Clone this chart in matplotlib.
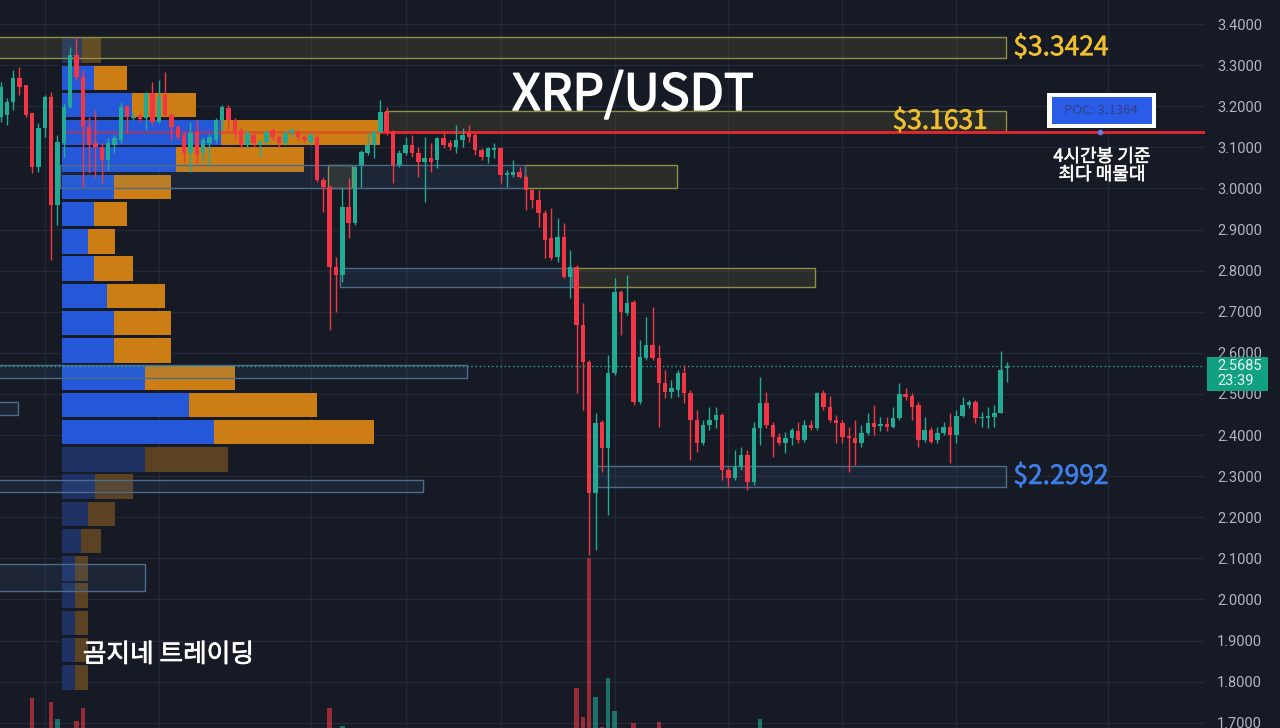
import numpy as np
import matplotlib
matplotlib.use("Agg")
import matplotlib.pyplot as plt
import matplotlib.transforms as mtransforms
import matplotlib.patheffects as pe
from matplotlib.patches import Rectangle

plt.rcParams['font.family'] = ['Noto Sans CJK KR', 'DejaVu Sans']

# ---------------- 4h candles (XRP/USDT) ----------------
opens = [
    3.174, 3.179, 3.210, 3.269, 3.252, 3.183, 3.052, 3.147, 3.222, 2.960,
    3.111, 3.198, 3.325, 3.271, 3.149, 3.111, 3.101, 3.069, 3.106, 3.118,
    3.200, 3.171, 3.179, 3.171, 3.232, 3.162, 3.227, 3.179, 3.149, 3.130,
    3.086, 3.137, 3.086, 3.111, 3.118, 3.166, 3.196, 3.166, 3.142, 3.106,
    3.130, 3.106, 3.113, 3.142, 3.125, 3.111, 3.135, 3.137, 3.125, 3.113,
    3.125, 3.020, 3.003, 2.809, 2.789, 2.955, 2.916, 3.057, 3.086, 3.106,
    3.137, 3.186, 3.137, 3.057, 3.086, 3.106, 3.086, 3.064, 3.074, 3.069,
    3.123, 3.111, 3.101, 3.118, 3.135, 3.130, 3.093, 3.076, 3.093, 3.098,
    3.033, 3.033, 3.040, 3.028, 2.996, 2.972, 2.940, 2.879, 2.833, 2.882,
    2.785, 2.809, 2.668, 2.578, 2.259, 2.432, 2.368, 2.551, 2.748, 2.697,
    2.724, 2.480, 2.587, 2.619, 2.587, 2.527, 2.505, 2.510, 2.551, 2.502,
    2.437, 2.381, 2.424, 2.437, 2.449, 2.315, 2.296, 2.322, 2.351, 2.286,
    2.417, 2.478, 2.424, 2.395, 2.381, 2.393, 2.410, 2.388, 2.424, 2.417,
    2.502, 2.468, 2.437, 2.429, 2.398, 2.393, 2.381, 2.405, 2.429, 2.422,
    2.427, 2.420, 2.441, 2.500, 2.495, 2.473, 2.388, 2.412, 2.388, 2.405,
    2.420, 2.400, 2.446, 2.473, 2.480, 2.441, 2.441, 2.444, 2.453, 2.563,
]
highs = [
    3.259, 3.220, 3.288, 3.295, 3.252, 3.183, 3.159, 3.227, 3.235, 3.130,
    3.208, 3.344, 3.368, 3.288, 3.174, 3.191, 3.111, 3.123, 3.130, 3.210,
    3.203, 3.186, 3.183, 3.235, 3.259, 3.264, 3.283, 3.183, 3.154, 3.137,
    3.162, 3.166, 3.125, 3.132, 3.171, 3.203, 3.203, 3.171, 3.147, 3.142,
    3.137, 3.118, 3.142, 3.147, 3.130, 3.142, 3.147, 3.142, 3.130, 3.135,
    3.130, 3.028, 3.008, 2.833, 3.001, 3.025, 3.057, 3.093, 3.137, 3.142,
    3.215, 3.198, 3.142, 3.093, 3.125, 3.130, 3.101, 3.125, 3.111, 3.125,
    3.135, 3.118, 3.154, 3.147, 3.154, 3.135, 3.098, 3.101, 3.111, 3.101,
    3.045, 3.069, 3.052, 3.033, 3.001, 2.996, 2.947, 2.952, 2.928, 2.916,
    2.850, 2.814, 2.721, 2.583, 2.453, 2.437, 2.595, 2.782, 2.753, 2.789,
    2.729, 2.631, 2.687, 2.711, 2.619, 2.558, 2.534, 2.558, 2.570, 2.510,
    2.461, 2.437, 2.468, 2.468, 2.453, 2.322, 2.364, 2.371, 2.364, 2.432,
    2.541, 2.505, 2.432, 2.405, 2.407, 2.417, 2.432, 2.437, 2.437, 2.505,
    2.510, 2.495, 2.449, 2.437, 2.420, 2.437, 2.424, 2.453, 2.473, 2.444,
    2.444, 2.468, 2.527, 2.514, 2.502, 2.480, 2.444, 2.420, 2.420, 2.432,
    2.453, 2.461, 2.492, 2.485, 2.485, 2.456, 2.468, 2.473, 2.605, 2.578,
]
lows = [
    3.162, 3.154, 3.191, 3.227, 3.174, 3.037, 3.040, 3.125, 2.826, 2.911,
    3.076, 3.196, 3.264, 3.003, 3.037, 3.028, 3.013, 3.045, 3.086, 3.111,
    3.135, 3.166, 3.162, 3.142, 3.154, 3.159, 3.174, 3.118, 3.118, 3.064,
    3.040, 3.062, 3.064, 3.057, 3.111, 3.142, 3.142, 3.118, 3.098, 3.098,
    3.101, 3.076, 3.106, 3.118, 3.101, 3.106, 3.125, 3.118, 3.113, 3.106,
    3.015, 2.943, 2.656, 2.699, 2.772, 2.879, 2.911, 3.003, 3.081, 3.074,
    3.135, 3.130, 3.013, 3.052, 3.081, 3.076, 3.028, 2.967, 3.040, 3.050,
    3.098, 3.093, 3.086, 3.101, 3.113, 3.081, 3.069, 3.062, 3.074, 3.013,
    3.003, 3.028, 3.025, 2.947, 2.952, 2.906, 2.831, 2.826, 2.821, 2.782,
    2.733, 2.502, 2.461, 2.108, 2.120, 2.310, 2.205, 2.546, 2.643, 2.692,
    2.473, 2.475, 2.582, 2.582, 2.420, 2.490, 2.490, 2.492, 2.478, 2.339,
    2.359, 2.376, 2.412, 2.417, 2.291, 2.274, 2.291, 2.315, 2.266, 2.279,
    2.376, 2.417, 2.347, 2.376, 2.356, 2.376, 2.381, 2.383, 2.412, 2.412,
    2.461, 2.432, 2.381, 2.381, 2.310, 2.327, 2.371, 2.400, 2.400, 2.410,
    2.410, 2.417, 2.437, 2.485, 2.437, 2.371, 2.383, 2.381, 2.381, 2.400,
    2.332, 2.381, 2.444, 2.466, 2.429, 2.420, 2.417, 2.420, 2.453, 2.529,
]
closes = [
    3.247, 3.210, 3.269, 3.247, 3.179, 3.052, 3.147, 3.222, 2.960, 3.113,
    3.198, 3.325, 3.271, 3.149, 3.106, 3.101, 3.069, 3.111, 3.123, 3.198,
    3.174, 3.174, 3.169, 3.232, 3.162, 3.222, 3.179, 3.149, 3.125, 3.086,
    3.135, 3.081, 3.118, 3.125, 3.166, 3.198, 3.166, 3.137, 3.106, 3.135,
    3.111, 3.113, 3.137, 3.125, 3.111, 3.135, 3.142, 3.125, 3.118, 3.130,
    3.020, 3.003, 2.809, 2.789, 2.955, 2.916, 3.052, 3.089, 3.106, 3.137,
    3.186, 3.137, 3.057, 3.086, 3.106, 3.086, 3.064, 3.074, 3.064, 3.123,
    3.106, 3.101, 3.118, 3.130, 3.125, 3.093, 3.076, 3.098, 3.098, 3.033,
    3.037, 3.040, 3.028, 2.996, 2.972, 2.940, 2.874, 2.831, 2.882, 2.785,
    2.809, 2.668, 2.578, 2.259, 2.429, 2.368, 2.551, 2.748, 2.699, 2.721,
    2.480, 2.590, 2.619, 2.587, 2.527, 2.505, 2.514, 2.551, 2.502, 2.437,
    2.381, 2.424, 2.437, 2.449, 2.315, 2.296, 2.322, 2.351, 2.286, 2.417,
    2.478, 2.424, 2.395, 2.381, 2.393, 2.412, 2.388, 2.424, 2.417, 2.502,
    2.468, 2.437, 2.429, 2.395, 2.393, 2.381, 2.405, 2.429, 2.420, 2.427,
    2.420, 2.441, 2.500, 2.492, 2.468, 2.388, 2.412, 2.383, 2.405, 2.420,
    2.400, 2.446, 2.473, 2.480, 2.441, 2.444, 2.446, 2.453, 2.558, 2.5685,
]

# volume spikes that rise into view (bar index, volume in M XRP)
vol_index = [5, 8, 9, 12, 13, 52, 54, 91, 92, 93, 94, 95, 96, 97, 100, 104, 120]
vol_value = [60, 52, 18, 14, 40, 40, 4, 80, 22, 340, 62, 2, 100, 34, 10, 12, 18]

# visible-range volume profile (row centre price, up volume, down volume)
profile_levels = [3.3353, 3.2690, 3.2027, 3.1364, 3.0701, 3.0038, 2.9375, 2.8712,
                  2.8049, 2.7386, 2.6723, 2.6060, 2.5397, 2.4734, 2.4071, 2.3408,
                  2.2745, 2.2082, 2.1419, 2.0756, 2.0093, 1.9430, 1.8767, 1.8104]
profile_up = [20, 32, 70, 159, 114, 52, 32, 26, 32, 45, 52, 52,
              83, 127, 152, 83, 33, 26, 19, 13, 13, 13, 13, 13]
profile_down = [19, 33, 64, 159, 128, 57, 33, 27, 39, 58, 57, 57,
                90, 128, 160, 83, 38, 27, 20, 13, 13, 13, 13, 13]
value_area_rows = list(range(1, 15))

poc_price = 3.1364
last_price = 2.5685
bar_countdown = "23:39"

# supply (yellow) and demand (blue) zones: (start bar, end bar, centre, half height)
supply_zones = [(-1.0, 158.8, 3.3424, 0.0256), (60.7, 158.8, 3.1631, 0.0255),
                (82.9, 106.9, 3.0290, 0.0280), (51.7, 55.5, 3.0290, 0.0280),
                (90.3, 128.7, 2.7830, 0.0230)]
demand_zones = [(9.4, 82.9, 3.0290, 0.0280), (53.6, 90.3, 2.7830, 0.0230),
                (-1.0, 73.7, 2.5545, 0.0155), (-1.0, 2.8, 2.4645, 0.0155),
                (-1.0, 66.8, 2.2765, 0.0145), (-1.0, 22.8, 2.0530, 0.0330),
                (94.2, 158.8, 2.2992, 0.0256)]
zone_labels = [(3.3424, 'supply', 'left'), (3.1631, 'supply', 'inside'),
               (2.2992, 'demand', 'left')]

price_ticks = [1.7, 1.8, 1.9, 2.0, 2.1, 2.2, 2.3, 2.4, 2.5, 2.6,
               2.7, 2.8, 2.9, 3.0, 3.1, 3.2, 3.3, 3.4]
time_grid = [7, 25, 49, 64, 79, 97, 115, 133, 151, 175]

# ---------------- styling ----------------
BG = '#161a25'
GRID = '#232836'
UP = '#22ab94'
DOWN = '#f23645'
GOLD = '#f0bf2e'
BLUE_TXT = '#3d7fe6'


def heavier(color, width):
    # thicken a regular-weight face a little
    return [pe.withStroke(linewidth=width, foreground=color)]


W, H = 1280, 728
PLOT_W = 1205
fig = plt.figure(figsize=(W / 100, H / 100), dpi=100, facecolor=BG)
ax = fig.add_axes([0, 0, PLOT_W / W, 1])
ax.set_facecolor(BG)
vax = ax.twinx()

ax.set_xlim(-0.08, 190.28)
ax.set_ylim(1.6872, 3.4584)
for s in ax.spines.values():
    s.set_visible(False)
for s in vax.spines.values():
    s.set_visible(False)

ax.yaxis.tick_right()
ax.set_yticks(price_ticks)
ax.set_yticklabels([f"{t:.4f}" for t in price_ticks], fontfamily='Roboto')
ax.tick_params(axis='y', length=0, pad=8.6, labelcolor='#b2b5be', labelsize=10.5)
ax.set_xticks([])
for t in price_ticks:
    ax.axhline(t, color=GRID, lw=1, zorder=0.5)
for g in time_grid:
    ax.axvline(g, color=GRID, lw=1, zorder=0.5)

n = len(opens)
x = np.arange(n)
o = np.array(opens); c = np.array(closes)
h = np.array(highs); l = np.array(lows)
colors = [UP if cc >= oo else DOWN for oo, cc in zip(o, c)]

# volume profile on the left
prof_left = 9.72
prof_scale = 1 / 6.33
row_h = 0.0598
for k, lvl in enumerate(profile_levels):
    bright = k in value_area_rows
    cu = '#2458d8' if bright else '#1d3263'
    cd = '#cc7e14' if bright else '#5a4222'
    ax.barh(lvl, profile_up[k] * prof_scale, height=row_h, left=prof_left,
            color=cu, lw=0, zorder=1.5)
    ax.barh(lvl, profile_down[k] * prof_scale, height=row_h,
            left=prof_left + profile_up[k] * prof_scale, color=cd, lw=0, zorder=1.5)

# point of control line
totals = [u + d for u, d in zip(profile_up, profile_down)]
prof_end = prof_left + max(totals) * prof_scale
ax.hlines(poc_price, prof_left, prof_end, color='#e8262d', lw=2, alpha=0.45, zorder=2.6)
ax.hlines(poc_price, prof_end, 190.28, color='#e8262d', lw=2, zorder=2.6)

# zones
for x0, x1, cen, hh in supply_zones:
    ax.add_patch(Rectangle((x0, cen - hh), x1 - x0, 2 * hh, facecolor='#a09a40',
                           alpha=0.14, lw=0, zorder=2))
    ax.add_patch(Rectangle((x0, cen - hh), x1 - x0, 2 * hh, facecolor='none',
                           edgecolor='#8f8f45', lw=1, zorder=2.1))
for x0, x1, cen, hh in demand_zones:
    ax.add_patch(Rectangle((x0, cen - hh), x1 - x0, 2 * hh, facecolor='#4a7ab8',
                           alpha=0.12, lw=0, zorder=2))
    ax.add_patch(Rectangle((x0, cen - hh), x1 - x0, 2 * hh, facecolor='none',
                           edgecolor='#4d6c8c', lw=1, zorder=2.1))

# last price dotted line
ax.axhline(last_price, color=UP, lw=1, ls=(0, (1, 2)), zorder=2.7)

# candles
ax.vlines(x, l, h, colors=colors, lw=1, zorder=3)
body_bottom = np.minimum(o, c)
body_h = np.maximum(np.abs(c - o), 0.0025)
ax.bar(x, body_h, bottom=body_bottom, width=0.7, color=colors, lw=0, zorder=3.1)

# volume bars
vax.set_ylim(0, 1456)
vax.yaxis.set_visible(False)
vcolors = [colors[i] for i in vol_index]
vax.bar(vol_index, vol_value, width=0.7, color=vcolors, alpha=0.6, lw=0)

# zone price labels
for val, kind, where in zone_labels:
    col = GOLD if kind == 'supply' else BLUE_TXT
    if where == 'left':
        ax.text(160.0, val, f"${val:.4f}", color=col, fontsize=19,
                ha='left', va='center', zorder=5, path_effects=heavier(col, 0.45))
    else:
        ax.text(156.0, val, f"${val:.4f}", color=col, fontsize=19,
                ha='right', va='center', zorder=5, path_effects=heavier(col, 0.45))

# title and watermark
ax.text(99.9, 3.1908, 'XRP/USDT', color='white', fontsize=36,
        ha='center', va='baseline', zorder=6, path_effects=heavier('white', 1.1))
ax.text(13.0, 1.8648, '곰지네 트레이딩', color='white', fontsize=18.5,
        ha='left', va='center', zorder=6, path_effects=heavier('white', 0.5))

# POC callout
ax.add_patch(Rectangle((165.3, 3.147), 17.2, 0.085, facecolor='white',
                       edgecolor='none', zorder=6))
ax.add_patch(Rectangle((166.1, 3.1567), 15.8, 0.0657, facecolor='#2a5ce8',
                       edgecolor='none', zorder=6.1))
ax.text(173.9, 3.1896, f"POC: {poc_price:.4f}", color='#2f4185', fontsize=9.5,
        ha='center', va='center', zorder=6.2)
ax.plot([173.7], [poc_price], 'o', ms=3, color='#6a7be8', zorder=6.3)
ax.text(174.0, 3.055, '4시간봉 기준\n최다 매물대', color='white', fontsize=13,
        ha='center', va='center', linespacing=1.0, zorder=6,
        path_effects=heavier('white', 0.35))

# last price tag on the axis
trans = mtransforms.blended_transform_factory(ax.transAxes, ax.transData)
ax.add_patch(Rectangle((1207 / PLOT_W, last_price - 0.062), 61 / PLOT_W, 0.0827,
                       transform=trans, facecolor='#12a082', edgecolor='none',
                       clip_on=False, zorder=10))
ax.text(1217 / PLOT_W, last_price, f"{last_price:.4f}", transform=trans,
        color='#e8f6f2', fontsize=10.5, fontfamily='Roboto', ha='left', va='center',
        clip_on=False, zorder=11)
ax.text(1217 / PLOT_W, last_price - 0.0365, bar_countdown, transform=trans,
        color='#e8f6f2', fontsize=10.5, fontfamily='Roboto', ha='left', va='center',
        clip_on=False, zorder=11)

fig.savefig('out.png', dpi=100, facecolor=BG)
